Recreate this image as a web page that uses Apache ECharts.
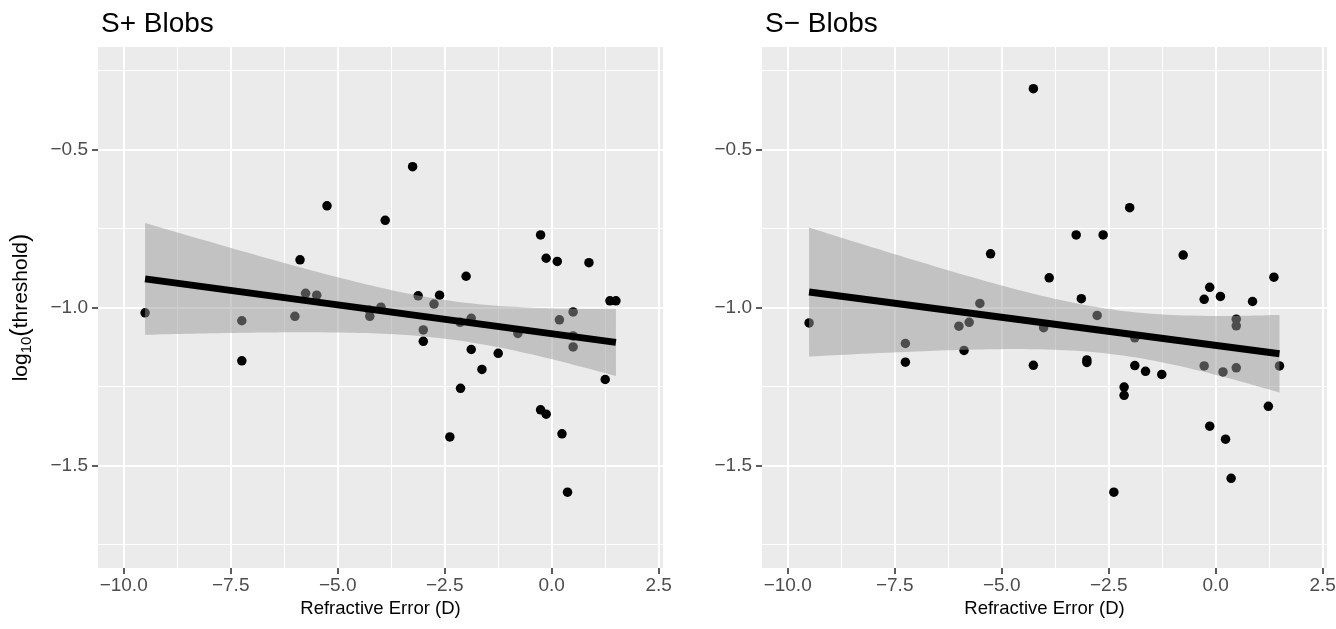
<!DOCTYPE html>
<html>
<head>
<meta charset="utf-8">
<script src="https://cdn.jsdelivr.net/npm/echarts@6/dist/echarts.min.js"></script>
<style>
html,body{margin:0;padding:0;background:#fff;}
#chart{width:1336px;height:629px;}
</style>
</head>
<body>
<div id="chart"></div>
<script>
// ---- data ----
const panelTitles = ['S+ Blobs', 'S\u2212 Blobs'];
const xAxisTitle = 'Refractive Error (D)';

const splusX = [-9.50, -7.24, -7.24, -6.00, -5.88, -5.75, -5.49, -5.25, -4.25, -4.26, -3.99, -3.89, -3.25, -3.12, -3.00, -3.00, -2.75, -2.62, -2.38, -2.14, -2.13, -2.00, -1.88, -1.88, -1.63, -1.25, -0.79, -0.26, -0.26, -0.13, -0.13, 0.13, 0.18, 0.24, 0.37, 0.50, 0.50, 0.50, 0.87, 1.25, 1.36, 1.50];
const splusY = [-1.017, -1.042, -1.169, -1.028, -0.849, -0.955, -0.961, -0.678, -1.028, -1.009, -0.999, -0.724, -0.554, -0.963, -1.071, -1.107, -0.989, -0.961, -1.410, -1.047, -1.256, -0.901, -1.034, -1.133, -1.196, -1.145, -1.082, -0.770, -1.324, -0.844, -1.338, -0.854, -1.039, -1.400, -1.585, -1.014, -1.090, -1.125, -0.858, -1.228, -0.979, -0.979];

const sminusX = [-9.50, -7.25, -7.25, -6.00, -5.88, -5.76, -5.51, -5.26, -4.26, -4.26, -4.02, -3.89, -3.26, -3.14, -3.01, -3.01, -2.77, -2.63, -2.38, -2.14, -2.14, -2.01, -1.89, -1.89, -1.64, -1.26, -0.76, -0.27, -0.27, -0.14, -0.14, 0.11, 0.17, 0.23, 0.36, 0.48, 0.48, 0.48, 0.86, 1.23, 1.36, 1.49];
const sminusY = [-1.049, -1.114, -1.173, -1.059, -1.136, -1.047, -0.987, -0.830, -0.307, -1.183, -1.064, -0.906, -0.770, -0.972, -1.166, -1.174, -1.025, -0.770, -1.585, -1.252, -1.278, -0.684, -1.096, -1.184, -1.202, -1.212, -0.834, -0.974, -1.185, -0.936, -1.376, -0.965, -1.204, -1.417, -1.541, -1.037, -1.058, -1.191, -0.981, -1.313, -0.904, -1.185];

const xTickValues = [-10, -7.5, -5, -2.5, 0, 2.5];
const xTickLabels = ['\u221210.0', '\u22127.5', '\u22125.0', '\u22122.5', '0.0', '2.5'];
const xMinorValues = [-8.75, -6.25, -3.75, -1.25, 1.25];
const yTickValues = [-1.5, -1.0, -0.5];
const yTickLabels = ['\u22121.5', '\u22121.0', '\u22120.5'];
const yMinorValues = [-1.75, -1.25, -0.75, -0.25];

// ---- linear model with 95% confidence band (as geom_smooth(method = "lm")) ----
function tQuantile975(df) {
  const z = 1.959964;
  return z + (z*z*z + z) / (4*df) + (5*Math.pow(z,5) + 16*z*z*z + 3*z) / (96*df*df);
}
function fitLm(xs, ys, nOut) {
  const n = xs.length;
  let xb = 0, yb = 0;
  for (let i = 0; i < n; i++) { xb += xs[i]; yb += ys[i]; }
  xb /= n; yb /= n;
  let sxx = 0, sxy = 0;
  for (let i = 0; i < n; i++) { sxx += (xs[i]-xb)*(xs[i]-xb); sxy += (xs[i]-xb)*(ys[i]-yb); }
  const b = sxy / sxx, a = yb - b*xb;
  let sse = 0;
  for (let i = 0; i < n; i++) { const r = ys[i] - (a + b*xs[i]); sse += r*r; }
  const s = Math.sqrt(sse / (n-2));
  const t = tQuantile975(n-2);
  const lo = Math.min(...xs), hi = Math.max(...xs);
  const line = [], upper = [], lower = [];
  for (let k = 0; k < nOut; k++) {
    const x = lo + (hi-lo)*k/(nOut-1);
    const yh = a + b*x;
    const se = s*Math.sqrt(1/n + (x-xb)*(x-xb)/sxx);
    line.push([x, yh]);
    upper.push([x, yh + t*se]);
    lower.push([x, yh - t*se]);
  }
  return {line, upper, lower};
}

const X_MIN = -10.6, X_MAX = 2.6, Y_MIN = -1.825, Y_MAX = -0.175;
const FONT = '"Liberation Sans", Arial, Helvetica, sans-serif';

function labelFor(values, labels) {
  return function (v) {
    const i = values.findIndex(function (t) { return Math.abs(t - v) < 1e-9; });
    return i >= 0 ? labels[i] : '';
  };
}

const panels = [
  {x: splusX, y: splusY},
  {x: sminusX, y: sminusY}
];
const gridLefts = [98, 762];

const grids = [], xAxes = [], yAxes = [], series = [], titles = [];

panels.forEach(function (p, gi) {
  grids.push({left: gridLefts[gi], top: 47, width: 565, height: 521,
    show: true, backgroundColor: '#EBEBEB', borderWidth: 0, outerBoundsMode: 'none', containLabel: false});

  titles.push({text: panelTitles[gi], left: gridLefts[gi] - 2, top: 5,
    textStyle: {fontFamily: FONT, fontSize: 28, fontWeight: 'normal', color: '#000'}});

  // minor grid axes
  xAxes.push({type: 'value', gridIndex: gi, min: X_MIN, max: X_MAX, position: 'top',
    axisLine: {show: false, onZero: false}, axisLabel: {show: false},
    axisTick: {show: false, customValues: xMinorValues},
    splitLine: {show: true, lineStyle: {color: '#FFFFFF', width: 1}}});
  yAxes.push({type: 'value', gridIndex: gi, min: Y_MIN, max: Y_MAX, position: 'right',
    axisLine: {show: false, onZero: false}, axisLabel: {show: false},
    axisTick: {show: false, customValues: yMinorValues},
    splitLine: {show: true, lineStyle: {color: '#FFFFFF', width: 1}}});

  // major axes
  xAxes.push({type: 'value', gridIndex: gi, min: X_MIN, max: X_MAX, position: 'bottom',
    name: xAxisTitle, nameLocation: 'middle', nameGap: 29,
    nameTextStyle: {fontFamily: FONT, fontSize: 18.5, color: '#000'},
    axisLine: {show: false, onZero: false},
    axisTick: {show: true, length: 6, customValues: xTickValues, lineStyle: {color: '#333333', width: 1.6}},
    axisLabel: {customValues: xTickValues, formatter: labelFor(xTickValues, xTickLabels),
      fontFamily: FONT, fontSize: 19, color: '#4D4D4D', margin: 8},
    splitLine: {show: true, lineStyle: {color: '#FFFFFF', width: 2}}});
  const yMajor = {type: 'value', gridIndex: gi, min: Y_MIN, max: Y_MAX, position: 'left',
    axisLine: {show: false, onZero: false},
    axisTick: {show: true, length: 6, customValues: yTickValues, lineStyle: {color: '#333333', width: 1.6}},
    axisLabel: {customValues: yTickValues, formatter: labelFor(yTickValues, yTickLabels),
      fontFamily: FONT, fontSize: 19, color: '#4D4D4D', margin: 10},
    splitLine: {show: true, lineStyle: {color: '#FFFFFF', width: 2}}};
  if (gi === 0) {
    yMajor.name = '{a|log}{b|10}{p|(}{a|threshold}{p|)}';
    yMajor.nameLocation = 'middle';
    yMajor.nameRotate = 90;
    yMajor.nameGap = 64;
    yMajor.nameTextStyle = {fontFamily: FONT, color: '#000', rich: {
      a: {fontFamily: FONT, fontSize: 21, color: '#000'},
      p: {fontFamily: FONT, fontSize: 25, color: '#000'},
      b: {fontFamily: FONT, fontSize: 15, color: '#000', padding: [10, 0, 0, 0]}
    }};
  }
  yAxes.push(yMajor);

  const xi = gi*2 + 1, yi = gi*2 + 1;
  const fit = fitLm(p.x, p.y, 80);

  series.push({type: 'scatter', xAxisIndex: xi, yAxisIndex: yi, symbolSize: 9.5,
    itemStyle: {color: '#000000', opacity: 1}, silent: true, z: 2,
    data: p.x.map(function (v, i) { return [v, p.y[i]]; })});

  series.push({type: 'custom', xAxisIndex: xi, yAxisIndex: yi, silent: true, z: 3,
    data: [[fit.line[0][0], fit.line[0][1]]],
    renderItem: function (params, api) {
      const pts = [];
      fit.upper.forEach(function (q) { pts.push(api.coord(q)); });
      for (let k = fit.lower.length - 1; k >= 0; k--) pts.push(api.coord(fit.lower[k]));
      return {type: 'polygon', shape: {points: pts}, style: {fill: 'rgba(153,153,153,0.5)'}};
    }});

  series.push({type: 'line', xAxisIndex: xi, yAxisIndex: yi, silent: true, z: 4,
    showSymbol: false, symbol: 'none',
    lineStyle: {color: '#000000', width: 7, cap: 'butt'},
    data: [fit.line[0], fit.line[fit.line.length - 1]]});
});

const chart = echarts.init(document.getElementById('chart'), null, {renderer: 'canvas'});
chart.setOption({
  animation: false,
  backgroundColor: '#FFFFFF',
  textStyle: {fontFamily: FONT},
  title: titles,
  grid: grids,
  xAxis: xAxes,
  yAxis: yAxes,
  series: series
});
</script>
</body>
</html>
